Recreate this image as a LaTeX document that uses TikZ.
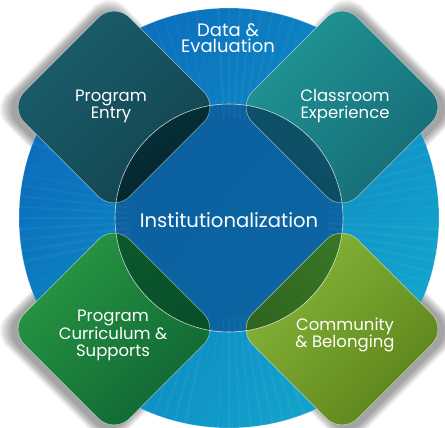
\documentclass[tikz,border=0pt]{standalone}
\usepackage{fontspec}
\setmainfont{Poppins}
\usetikzlibrary{shadings}
\definecolor{ringA}{HTML}{0A6CBC}
\definecolor{ringB}{HTML}{12A6CC}
\definecolor{core}{HTML}{0C5F9E}
\definecolor{tlA}{HTML}{1D6370}\definecolor{tlM}{HTML}{175260}\definecolor{tlB}{HTML}{0F3C45}
\definecolor{tloA}{HTML}{0C4250}\definecolor{tloB}{HTML}{03252C}
\definecolor{trA}{HTML}{22A09C}\definecolor{trM}{HTML}{1B8088}\definecolor{trB}{HTML}{15606E}
\definecolor{troA}{HTML}{106275}\definecolor{troB}{HTML}{0C4A62}
\definecolor{blA}{HTML}{30A548}\definecolor{blM}{HTML}{1A7D3A}\definecolor{blB}{HTML}{0A5A30}
\definecolor{bloA}{HTML}{0E5A2E}\definecolor{bloB}{HTML}{044A26}
\definecolor{brA}{HTML}{90C040}\definecolor{brM}{HTML}{74A02A}\definecolor{brB}{HTML}{4F7212}
\definecolor{broA}{HTML}{3A7A28}\definecolor{broB}{HTML}{2A5C1C}
\newcommand\dD{105}
\newcommand\dpath[3]{(#1-\dD-#3,#2) -- (#1,#2-\dD-#3) -- (#1+\dD+#3,#2) -- (#1,#2+\dD+#3) -- cycle}
\begin{document}
\begin{tikzpicture}[x=1pt,y=-1pt,
  dia/.style={rounded corners=22pt},
  lbl/.style={text=white, align=center, inner sep=0pt, font=\fontsize{16.5}{17}\selectfont},
  toplbl/.style={text=white, align=center, inner sep=0pt, font=\fontsize{18}{16.5}\selectfont},
  big/.style={text=white, inner sep=0pt, font=\fontsize{19.6}{22}\selectfont}]
\useasboundingbox (0,0) rectangle (445,428);
% shadows
\foreach \cx/\cy/\sx in {114/107/-1, 342/107/1, 114/329/-1, 342/329/1} {
  \foreach \i in {1,...,10} {
    \fill[black, opacity=0.045, dia] \dpath{\cx+\sx*5}{\cy+2}{\i*1.3};
  }
}
% outer ring
\shade[top color=ringA, bottom color=ringB, shading angle=50] (229,218) circle [radius=210pt];
\begin{scope}
  \clip (229,218) circle [radius=210pt];
  \fill[core, opacity=0.9] (229,218) circle [radius=114pt];
  \foreach \a [evaluate=\a as \w using {0.5+mod(\a*7,11)/4}] in {0,3,...,357} {
    \draw[white, opacity=0.045, line width=\w pt] (229,218) ++(\a:100) -- ++(\a:120);
  }
\end{scope}
\draw[white, opacity=0.35, line width=0.6pt] (229,218) circle [radius=210pt];
% diamonds
\shade[dia, upper left=tlA, upper right=tlM, lower left=tlM, lower right=tlB] \dpath{114}{107}{0};
\shade[dia, upper left=trA, upper right=trM, lower left=trM, lower right=trB] \dpath{342}{107}{0};
\shade[dia, upper left=blA, upper right=blM, lower left=blM, lower right=blB] \dpath{114}{329}{0};
\shade[dia, upper left=brA, upper right=brM, lower left=brM, lower right=brB] \dpath{342}{329}{0};
% overlaps
\begin{scope}
  \clip (229,218) circle [radius=114pt];
  \shade[dia, top color=tloA, bottom color=tloB, shading angle=30] \dpath{114}{107}{0};
  \shade[dia, top color=troA, bottom color=troB, shading angle=-30] \dpath{342}{107}{0};
  \shade[dia, top color=bloA, bottom color=bloB, shading angle=30] \dpath{114}{329}{0};
  \shade[dia, top color=broA, bottom color=broB, shading angle=-30] \dpath{342}{329}{0};
\end{scope}
\foreach \cx/\cy in {114/107, 342/107, 114/329, 342/329} {
  \draw[white, opacity=0.55, line width=0.5pt, dia] \dpath{\cx}{\cy}{0};
}
\draw[white, opacity=0.75, line width=0.6pt] (229,218) circle [radius=114pt];
% labels
\node[toplbl] (de) at (228,38) {Data \&\\Evaluation};
\node[lbl] (pe) at (111,106) {Program\\Entry};
\node[lbl] (ce) at (345,106) {Classroom\\Experience};
\node[big] (in) at (229,220) {Institutionalization};
\node[lbl] (pc) at (113,335) {Program\\Curriculum \&\\Supports};
\node[lbl] (cb) at (345,335) {Community\\\& Belonging};
\end{tikzpicture}
\end{document}
